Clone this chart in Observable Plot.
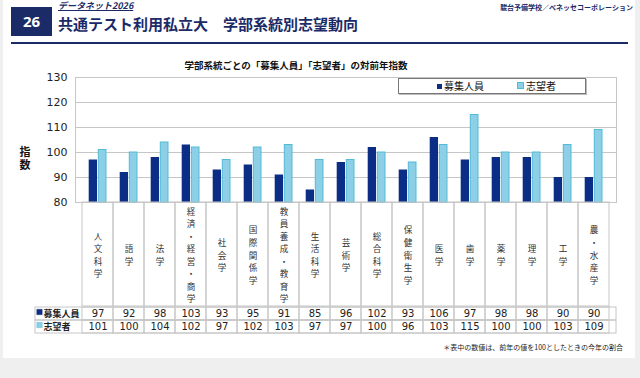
<!DOCTYPE html>
<html><head><meta charset="utf-8">
<script src="https://cdn.jsdelivr.net/npm/d3@7"></script>
<script src="https://cdn.jsdelivr.net/npm/@observablehq/plot@0.6"></script>
<style>
  html,body{margin:0;padding:0;}
  body{width:640px;height:378px;background:#efefef;position:relative;overflow:hidden;font-family:"Noto Sans CJK JP","Noto Sans",sans-serif;}
  .abs{position:absolute;}
  #panel{left:3px;top:0;width:632px;height:358px;background:#fff;}
  #num{left:11px;top:7px;width:41px;height:29px;background:#1b2b68;color:#fff;font-weight:bold;font-size:15px;line-height:29px;text-align:center;font-family:"Open Sans","Noto Sans",sans-serif;}
  #kicker{left:58px;top:0px;font-size:9px;font-weight:bold;font-style:italic;color:#1b2b68;text-decoration:underline;line-height:12px;}
  #title{left:58px;top:13px;font-size:15px;font-weight:bold;color:#1b2b68;line-height:22px;white-space:nowrap;}
  #rule{left:11px;top:42px;width:617px;height:2px;background:#1b2b68;}
  #source{right:7px;top:1px;font-size:7px;font-weight:bold;color:#1b2b68;line-height:12px;white-space:nowrap;}
  #ctitle{left:296px;top:58px;transform:translateX(-50%);font-size:9.5px;font-weight:bold;color:#111;white-space:nowrap;line-height:14px;}
  #ylab{left:18px;top:146px;font-size:11px;font-weight:bold;color:#111;line-height:14px;writing-mode:vertical-rl;letter-spacing:2px;white-space:nowrap;}
  #legend{left:398px;top:78px;width:186px;height:14px;border:1px solid #777;background:#fff;box-shadow:1px 1px 0 #bbb;z-index:5;font-size:10px;color:#111;}
  .li{position:absolute;top:0;line-height:14px;white-space:nowrap;}
  .sw{display:inline-block;width:5px;height:5px;margin-right:2px;vertical-align:1px;}
  #foot{right:17px;top:341px;font-size:7px;color:#222;white-space:nowrap;line-height:12px;}
  svg{position:absolute;overflow:visible;}
</style>
</head><body>
<div id="panel" class="abs"></div>
<div id="num" class="abs">26</div>
<div id="kicker" class="abs">データネット2026</div>
<div id="title" class="abs">共通テスト利用私立大　学部系統別志望動向</div>
<div id="rule" class="abs"></div>
<div id="source" class="abs">駿台予備学校／ベネッセコーポレーション</div>
<div id="ctitle" class="abs">学部系統ごとの「募集人員」「志望者」の対前年指数</div>
<div id="ylab" class="abs">指数</div>
<div id="legend" class="abs"></div>
<div id="foot" class="abs">＊表中の数値は、前年の値を100としたときの今年の割合</div>
<script>
const categories = ["人文科学","語学","法学","経済・経営・商学","社会学","国際関係学","教員養成・教育学","生活科学","芸術学","総合科学","保健衛生学","医学","歯学","薬学","理学","工学","農・水産学"];
const recruitIndex   = [97, 92, 98, 103, 93, 95, 91, 85, 96, 102, 93, 106, 97, 98, 98, 90, 90];
const applicantIndex = [101,100,104, 102, 97,102,103, 97, 97, 100, 96, 103,115,100,100,103,109];
const seriesNames = ["募集人員","志望者"];
const seriesColors = ["#0b2d86","#8dcfe7"];
const seriesStroke = ["#0b2d86","#52bbd5"];
const yTicks = [80, 90, 100, 110, 120, 130];

const FONT = '"Noto Sans CJK JP","Noto Sans",sans-serif';
const NUMFONT = '"DejaVu Sans",sans-serif';
const GRID = "#c6c6c6";
const ML = 75, MR = 24;
const table = categories.map((c,i)=>({cat:c, recruit:recruitIndex[i], applicant:applicantIndex[i]}));
const seriesVals = [recruitIndex, applicantIndex];
const long = seriesNames.flatMap((s,j)=>categories.map((c,i)=>({cat:c, series:s, value:seriesVals[j][i]})));

// legend
const lg = document.getElementById("legend");
const legendX = [38, 118];
seriesNames.forEach((s,j)=>{
  const d = document.createElement("div");
  d.className = "li";
  d.style.left = legendX[j] + "px";
  d.innerHTML = `<span class="sw" style="background:${seriesColors[j]};border:${j?'0.5px solid '+seriesStroke[j]:'none'}"></span>${s}`;
  lg.appendChild(d);
});

// bar chart
const bars = Plot.plot({
  width: 640, height: 210,
  marginTop: 77, marginBottom: 8, marginLeft: ML, marginRight: MR,
  style: {fontFamily: NUMFONT, fontSize: "11px", color: "#222", background: "transparent"},
  x: {domain: categories, padding: 0, axis: null},
  y: {domain: [yTicks[0], yTicks[yTicks.length-1]], ticks: yTicks, tickSize: 0, tickPadding: 8, label: null},
  marks: [
    Plot.ruleY(yTicks, {stroke: GRID}),
    Plot.frame({stroke: GRID}),
    Plot.barY(table, {x: "cat", y1: () => yTicks[0], y2: "recruit", fill: seriesColors[0], insetLeft: 6.7, insetRight: 16}),
    Plot.barY(table, {x: "cat", y1: () => yTicks[0], y2: "applicant", fill: seriesColors[1], stroke: seriesStroke[1], strokeWidth: 1, insetLeft: 16.3, insetRight: 7})
  ]
});
bars.style.left = "0px"; bars.style.top = "0px";
document.body.appendChild(bars);

// category label row
const labels = Plot.plot({
  width: 640, height: 104,
  marginTop: 0, marginBottom: 0, marginLeft: ML, marginRight: MR,
  style: {fontFamily: FONT, fontSize: "9px", color: "#333", background: "transparent"},
  x: {domain: categories, padding: 0, axis: null},
  marks: [
    Plot.cell(categories, {x: d => d, fill: "none", stroke: GRID}),
    Plot.text(categories, {x: d => d, text: d => Array.from(d).join("\n"), fontSize: 8.6, lineHeight: 1.46, fill: "#333"})
  ]
});
labels.style.left = "0px"; labels.style.top = "202px";
document.body.appendChild(labels);

// data rows
const rows = Plot.plot({
  width: 640, height: 27,
  marginTop: 0, marginBottom: 0, marginLeft: ML, marginRight: MR,
  style: {fontFamily: FONT, fontSize: "10px", color: "#222", background: "transparent"},
  x: {domain: categories, padding: 0, axis: null},
  y: {domain: seriesNames, padding: 0, axis: null},
  marks: [
    Plot.cell(seriesNames, {y: d => d, fill: "none", stroke: GRID, insetLeft: -40}),
    Plot.cell(long, {x: "cat", y: "series", fill: "none", stroke: GRID}),
    Plot.text(long, {x: "cat", y: "series", text: d => String(d.value), fontSize: 10, fontFamily: NUMFONT, fill: "#222"}),
    Plot.dot(seriesNames, {y: d => d, frameAnchor: "left", dx: -36, dy: -2, symbol: "square", r: 3, fill: d => seriesColors[seriesNames.indexOf(d)], stroke: d => seriesStroke[seriesNames.indexOf(d)], strokeWidth: 0.5}),
    Plot.text(seriesNames, {y: d => d, frameAnchor: "left", dx: -32, textAnchor: "start", text: d => d, fontSize: 9, fontWeight: "bold", fill: "#222"})
  ]
});
rows.style.left = "0px"; rows.style.top = "306px";
document.body.appendChild(rows);
</script>
</body></html>
